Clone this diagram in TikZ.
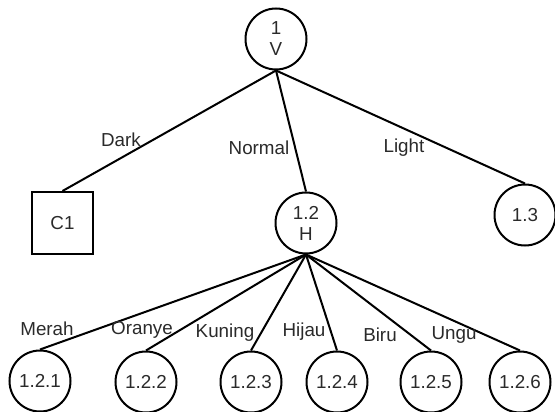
\documentclass[tikz,border=0pt]{standalone}
\usepackage{fontspec}
\setmainfont{Liberation Sans}
\begin{document}
\begin{tikzpicture}[x=1pt,y=-1pt,
  font=\fontsize{18.8}{22}\selectfont,
  every node/.style={text=txt},
  state/.style={circle,draw=black,line width=2pt,minimum size=61pt,inner sep=0pt,align=center},
  leafbox/.style={rectangle,draw=black,line width=2pt,minimum width=61pt,minimum height=62pt,inner sep=0pt},
  lbl/.style={inner sep=0pt},
  link/.style={line width=2pt,black}]
\definecolor{txt}{HTML}{2A2A2A}
\useasboundingbox (0,0) rectangle (555,412);
% tree nodes
\node[state] (root) at (276,39) {1\\[-1pt]V};
\node[leafbox] (c1) at (62.5,223) {C1};
\node[state] (n12) at (306,223) {1.2\\[-1pt]H};
\node[state] (n13) at (525,215) {1.3};
\node[state] (n121) at (40,381) {1.2.1};
\node[state] (n122) at (146,382) {1.2.2};
\node[state] (n123) at (251,382) {1.2.3};
\node[state] (n124) at (337,382) {1.2.4};
\node[state] (n125) at (431,382) {1.2.5};
\node[state] (n126) at (520,382) {1.2.6};
% branches
\draw[link] (root.south) -- (c1.north);
\draw[link] (root.south) -- (n12.north);
\draw[link] (root.south) -- (n13.north);
\foreach \c in {n121,n122,n123,n124,n125,n126}
  \draw[link] (n12.south) -- (\c.north);
% branch labels
\node[lbl] (ldark) at (121,140) {Dark};
\node[lbl] (lnormal) at (259,148) {Normal};
\node[lbl] (llight) at (404,148) {Light};
\node[lbl] (lmerah) at (47,329) {Merah};
\node[lbl] (loranye) at (142,330) {Oranye};
\node[lbl] (lkuning) at (225,333) {Kuning};
\node[lbl] (lhijau) at (304,332) {Hijau};
\node[lbl] (lbiru) at (380,335) {Biru};
\node[lbl] (lungu) at (454,335) {Ungu};
\end{tikzpicture}
\end{document}
